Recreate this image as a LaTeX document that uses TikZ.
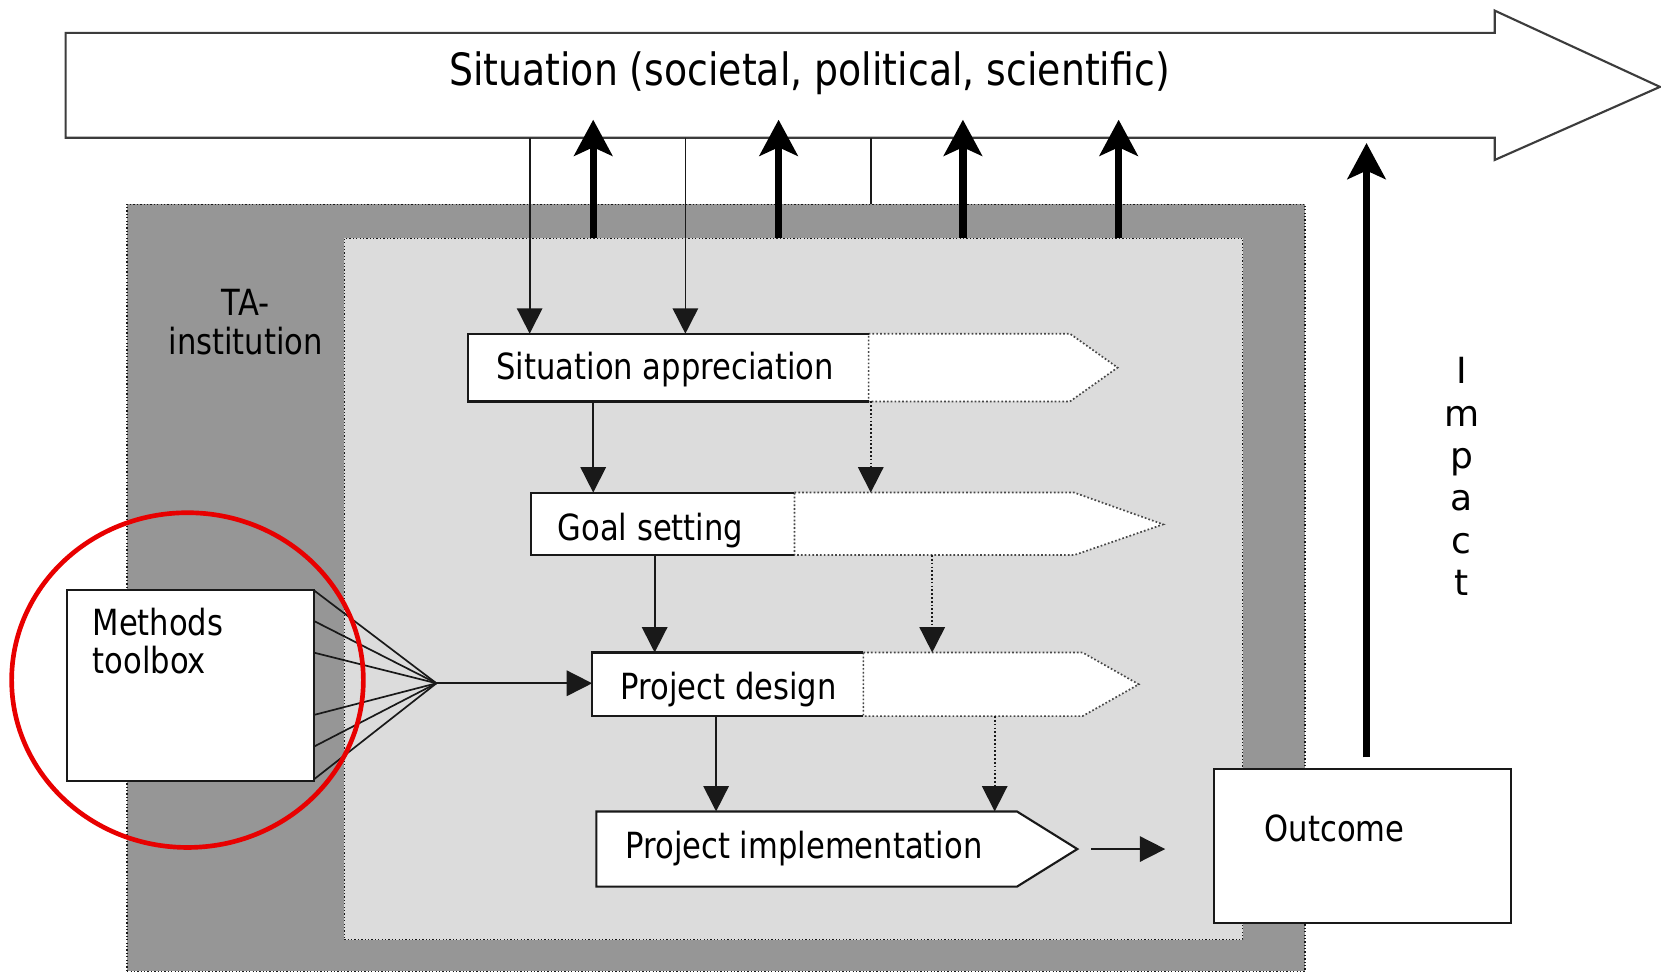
\documentclass[tikz,border=0pt]{standalone}
\usepackage{fontspec}
\setmainfont{DejaVu Sans}[FakeStretch=0.85]
\newfontfamily\impfont{DejaVu Sans}
\usetikzlibrary{arrows.meta,fit,calc}
\definecolor{darkg}{RGB}{150,150,150}
\definecolor{lightg}{RGB}{220,220,220}
\definecolor{ink}{RGB}{25,25,25}
\definecolor{circred}{RGB}{232,0,0}
\begin{document}
\begin{tikzpicture}[x=0.5pt,y=-0.5pt,
  box/.style={inner sep=0pt, outer sep=0pt},
  lbl/.style={font=\fontsize{17}{18}\selectfont, inner sep=0pt, anchor=base},
  solidline/.style={draw=ink, line width=1pt},
  dotline/.style={draw=ink!80, line width=0.8pt, densely dotted},
  conn/.style={draw=ink, line width=0.8pt, -{Triangle[length=12pt,width=12pt]}},
  dconn/.style={conn, densely dotted},
  fanline/.style={draw=ink, line width=0.8pt},
  bigarrow/.style={draw=black, line width=3.5pt, -{Stealth[length=17pt,width=18pt,inset=4pt]}},
  panel/.style={box, draw=ink, densely dotted, line width=0.6pt},
]
\useasboundingbox (0,0) rectangle (1568,917);
\fill[white] (0,0) rectangle (1568,917);

% institution panels
\node[panel, fill=darkg, fit={(120,193) (1232,917)}] (ta) {};
\node[panel, fill=lightg, fit={(325,225) (1173,887)}] (inner) {};
\node[lbl, anchor=north, align=center] (talbl) at (232,273) {TA-\\institution};

% situation arrow
\draw[draw=ink!85, line width=1pt, fill=white] (62,31) -- (1411,31) -- (1411,10) -- (1567,82) -- (1411,151) -- (1411,130) -- (62,130) -- cycle;
\coordinate (sitbottom) at (62,130);
\coordinate (tipline) at (62,113);
\node[font=\fontsize{21}{25}\selectfont, inner sep=0pt, anchor=base] (sit) at (764,81) {Situation (societal, political, scientific)};

% helper x positions
\coordinate (d1) at (500,0);
\coordinate (d2) at (647,0);
\coordinate (d3) at (822,0);
\coordinate (t1) at (560,0);
\coordinate (t2) at (735,0);
\coordinate (t3) at (909,0);
\coordinate (t4) at (1056,0);
\coordinate (c1) at (560,0);
\coordinate (c2) at (822,0);
\coordinate (c3) at (618,0);
\coordinate (c4) at (880,0);
\coordinate (c5) at (676,0);
\coordinate (c6) at (939,0);
\coordinate (imptip) at (1290,135);

% boxes
\node[box, fill=white, fit={(442,315) (820,379)}] (sa) {};
\draw[dotline, fill=white] (sa.north east) -- (1010,315) -- (1055,347) -- (1010,379) -- (sa.south east) -- cycle;
\draw[solidline] (sa.north east) -- (sa.north west) -- (sa.south west) -- (sa.south east);
\node[lbl] (salbl) at (628,358) {Situation appreciation};

\node[box, fill=white, fit={(501,465) (750,524)}] (gs) {};
\draw[dotline, fill=white] (gs.north east) -- (1014,465) -- (1098,495) -- (1014,524) -- (gs.south east) -- cycle;
\draw[solidline] (gs.north east) -- (gs.north west) -- (gs.south west) -- (gs.south east);
\node[lbl] (gslbl) at (614,510) {Goal setting};

\node[box, fill=white, fit={(559,616) (815,676)}] (pd) {};
\draw[dotline, fill=white] (pd.north east) -- (1022,616) -- (1075,646) -- (1022,676) -- (pd.south east) -- cycle;
\draw[solidline] (pd.north east) -- (pd.north west) -- (pd.south west) -- (pd.south east);
\node[lbl] (pdlbl) at (688,660) {Project design};

\node[box, fit={(563,766) (1017,837)}] (pi) {};
\draw[solidline, fill=white] (pi.north west) -- (960,766) -- (pi.east) -- (960,837) -- (pi.south west) -- cycle;
\node[lbl] (pilbl) at (759,810) {Project implementation};

% lines from the situation arrow
\draw[conn] (sitbottom -| d1) -- (sa.north -| d1);
\draw[conn] (sitbottom -| d2) -- (sa.north -| d2);
\draw[fanline] (sitbottom -| d3) -- (ta.north -| d3);

% thick arrows up
\foreach \t in {t1,t2,t3,t4}
  \draw[bigarrow] (inner.north -| \t) -- (tipline -| \t);

% flow connectors
\draw[conn] (sa.south -| c1) -- (gs.north -| c1);
\draw[dconn] (sa.south -| c2) -- (gs.north -| c2);
\draw[conn] (gs.south -| c3) -- (pd.north -| c3);
\draw[dconn] (gs.south -| c4) -- (pd.north -| c4);
\draw[conn] (pd.south -| c5) -- (pi.north -| c5);
\draw[dconn] (pd.south -| c6) -- (pi.north -| c6);

% outcome
\node[box, draw=ink, line width=1pt, fill=white, fit={(1146,726) (1426,871)}] (outcome) {};
\node[lbl] (outlbl) at (1260,794) {Outcome};
\draw[conn] ($(pi.east)+(13,0)$) -- ($(pi.east)+(83,0)$);
\draw[bigarrow] ($(outcome.north -| imptip)+(0,-11)$) -- (imptip);
\node[font=\impfont\fontsize{17}{20}\selectfont, align=center, anchor=north, inner sep=0pt] (impact) at (1380,337) {I\\m\\p\\a\\c\\t};

% methods toolbox
\node[box, draw=ink, line width=1pt, fill=white, fit={(63,557) (296,737)}] (mt) {};
\node[lbl, anchor=north west, align=left] (mtlbl) at (87,574) {Methods\\toolbox};
\coordinate (fan) at (412,645);
\foreach \o in {0,29,59,118,148,179}
  \draw[fanline] ($(mt.north east)+(0,\o)$) -- (fan);
\draw[conn] (fan) -- (fan -| pd.west);

% red ring
\draw[circred, line width=2.2pt] (177,642) ellipse [x radius=83pt, y radius=79pt];
\end{tikzpicture}
\end{document}
